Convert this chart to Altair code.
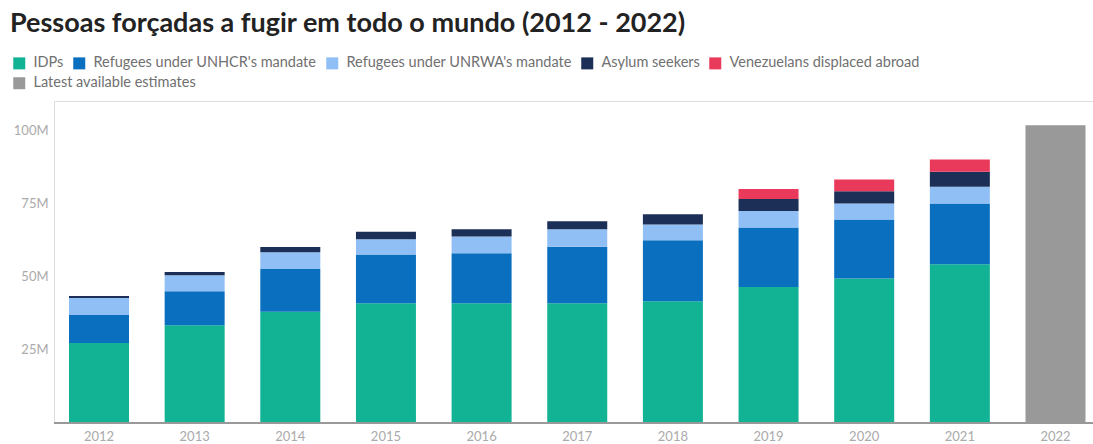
import altair as alt
import pandas as pd

# Forcibly displaced people worldwide, millions
years = ["2012", "2013", "2014", "2015", "2016", "2017", "2018", "2019", "2020", "2021"]
idps = [27.3, 33.4, 38.0, 40.9, 40.9, 40.9, 41.6, 46.5, 49.4, 54.2]
refugees_unhcr = [9.6, 11.6, 14.6, 16.7, 17.1, 19.3, 20.8, 20.3, 20.1, 20.8]
refugees_unrwa = [5.8, 5.5, 5.7, 5.2, 5.7, 6.0, 5.4, 5.6, 5.5, 5.7]
asylum_seekers = [0.7, 1.1, 1.8, 2.5, 2.5, 2.7, 3.5, 4.1, 4.2, 5.1]
venezuelans = [0, 0, 0, 0, 0, 0, 0, 3.4, 4.0, 4.2]
latest_year = "2022"
latest_total = 101.7

categories = [
    "IDPs",
    "Refugees under UNHCR's mandate",
    "Refugees under UNRWA's mandate",
    "Asylum seekers",
    "Venezuelans displaced abroad",
]
colors = ["#12b394", "#0b6fbf", "#90bff5", "#1b2f57", "#ea3a5b"]
latest_label = "Latest available estimates"
latest_color = "#999999"
y_ticks = [25, 50, 75, 100]

series = [idps, refugees_unhcr, refugees_unrwa, asylum_seekers, venezuelans]
rows = []
for i, yr in enumerate(years):
    for rank, vals in enumerate(series):
        if vals[i] > 0:
            rows.append({"year": yr, "category": categories[rank], "value": vals[i], "rank": rank})
df = pd.DataFrame(rows)
df_latest = pd.DataFrame([{"year": latest_year, "category": latest_label, "value": latest_total}])

all_years = years + [latest_year]
W, H = 1039, 322
FONT = "Lato"

x_enc = alt.X(
    "year:N",
    sort=all_years,
    scale=alt.Scale(range=[15, 1031.5], paddingInner=0.3727, paddingOuter=0),
    axis=alt.Axis(
        title=None, labelAngle=0, ticks=False, domain=False,
        labelColor="#aaaaaa", labelFontSize=13, labelPadding=7, labelFont=FONT,
    ),
)
y_enc = alt.Y(
    "value:Q",
    stack="zero",
    scale=alt.Scale(domain=[0, 110], nice=False),
    axis=alt.Axis(
        title=None, values=y_ticks, labelExpr="datum.value + 'M'",
        ticks=False, domain=False, grid=False,
        labelColor="#aaaaaa", labelFontSize=13, labelPadding=6, labelFont=FONT,
    ),
)

legend_style = dict(
    title=None, orient="none", direction="horizontal",
    symbolType="square", symbolSize=144, symbolStrokeWidth=0, symbolOpacity=1,
    labelFontSize=14.5, labelColor="#707070", labelFont=FONT,
    labelOffset=7, columnPadding=8, labelLimit=400,
)

bars = alt.Chart(df).mark_bar().encode(
    x=x_enc,
    y=y_enc,
    color=alt.Color(
        "category:N",
        scale=alt.Scale(domain=categories, range=colors),
        legend=alt.Legend(legendX=-42, legendY=-45, **legend_style),
    ),
    order=alt.Order("rank:Q", sort="ascending"),
)

latest = alt.Chart(df_latest).mark_bar().encode(
    x=x_enc,
    y=y_enc,
    color=alt.Color(
        "category:N",
        scale=alt.Scale(domain=[latest_label], range=[latest_color]),
        legend=alt.Legend(legendX=-42, legendY=-25, **legend_style),
    ),
)

baseline = alt.Chart(pd.DataFrame({"v": [0]})).mark_rule(color="#999999", strokeWidth=2).encode(
    y="v:Q",
    x=alt.value(0),
    x2=alt.value(W),
)

chart = (
    alt.layer(bars, latest, baseline)
    .resolve_scale(color="independent")
    .properties(
        width=W,
        height=H,
        title=alt.TitleParams(
            "Pessoas forçadas a fugir em todo o mundo (2012 - 2022)",
            anchor="start", dx=-2, fontSize=27, font=FONT, fontWeight="bold",
            color="#222222", offset=18,
        ),
        autosize=alt.AutoSizeParams(type="none"),
        padding={"left": 54, "top": 101, "right": 0, "bottom": 21},
    )
    .configure_view(stroke=None)
    .configure(background="white")
)

chart.save("out.html", embed_options={"renderer": "svg", "actions": False})
